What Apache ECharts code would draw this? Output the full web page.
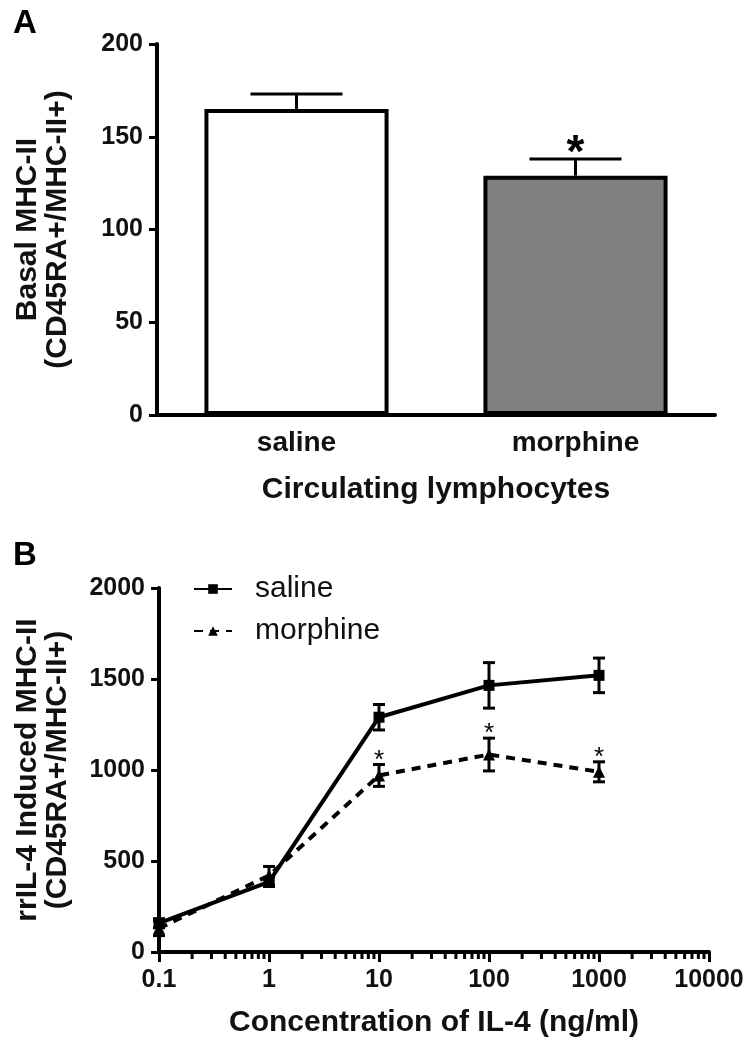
<!DOCTYPE html>
<html>
<head>
<meta charset="utf-8">
<script src="https://cdn.jsdelivr.net/npm/echarts@6/dist/echarts.min.js"></script>
<style>
  html, body { margin: 0; padding: 0; background: #fff; }
  #chart { width: 750px; height: 1050px; }
</style>
</head>
<body>
<div id="chart"></div>
<script>
// panel A
const groupsA = ['saline', 'morphine'];
const meanA = [165, 129];
const errA = [8, 9];
const sigA = [false, true];
const fillA = ['#ffffff', '#808080'];

// panel B
const doseB = [0.1, 1, 10, 100, 1000];
const salineB = [158, 385, 1290, 1465, 1520];
const salineErrB = [25, 25, 70, 125, 95];
const morphineB = [130, 420, 970, 1085, 990];
const morphineErrB = [40, 50, 60, 90, 55];
const sigB = [false, false, true, true, true];
// minor ticks of the log axis
const minorTicksB = [
  0.2, 0.3, 0.4, 0.5, 0.6, 0.7, 0.8, 0.9,
  2, 3, 4, 5, 6, 7, 8, 9,
  20, 30, 40, 50, 60, 70, 80, 90,
  200, 300, 400, 500, 600, 700, 800, 900,
  2000, 3000, 4000, 5000, 6000, 7000, 8000, 9000
];

const FONT = '"Liberation Sans", Arial, sans-serif';
const chart = echarts.init(document.getElementById('chart'));

const plain = v => String(+Number(v).toPrecision(6));

const barData = meanA.map((v, i) => ({
  value: v,
  itemStyle: { color: fillA[i], borderColor: '#000', borderWidth: 4 }
}));

// error bar (upper only) + star for the bars
const renderBarErr = (params, api) => {
  const i = api.value(0);
  const top = api.coord([i, api.value(1) + api.value(2)]);
  const base = api.coord([i, api.value(1)]);
  const children = [
    { type: 'line', shape: { x1: base[0], y1: base[1], x2: top[0], y2: top[1] }, style: { stroke: '#000', lineWidth: 3 } },
    { type: 'line', shape: { x1: top[0] - 46, y1: top[1], x2: top[0] + 46, y2: top[1] }, style: { stroke: '#000', lineWidth: 3 } }
  ];
  if (sigA[i]) {
    children.push({
      type: 'text',
      style: { text: '*', x: top[0], y: top[1] - 28, align: 'center', verticalAlign: 'top', font: 'bold 46px ' + FONT, fill: '#000' }
    });
  }
  return { type: 'group', children };
};

const makeErrRender = (means, errs, stars) => (params, api) => {
  const i = params.dataIndex;
  const x = doseB[i];
  const hi = api.coord([x, means[i] + errs[i]]);
  const lo = api.coord([x, means[i] - errs[i]]);
  const children = [
    { type: 'line', shape: { x1: hi[0], y1: hi[1], x2: lo[0], y2: lo[1] }, style: { stroke: '#000', lineWidth: 3 } },
    { type: 'line', shape: { x1: hi[0] - 6, y1: hi[1], x2: hi[0] + 6, y2: hi[1] }, style: { stroke: '#000', lineWidth: 3 } },
    { type: 'line', shape: { x1: lo[0] - 6, y1: lo[1], x2: lo[0] + 6, y2: lo[1] }, style: { stroke: '#000', lineWidth: 3 } }
  ];
  if (stars && stars[i]) {
    children.push({
      type: 'text',
      style: { text: '*', x: hi[0], y: hi[1] - 17, align: 'center', verticalAlign: 'top', font: '26px ' + FONT, fill: '#000' }
    });
  }
  return { type: 'group', children };
};

const axisLineStyle = { color: '#000', width: 4 };

const option = {
  animation: false,
  textStyle: { fontFamily: FONT },
  graphic: [
    { type: 'text', left: 13, top: 7, style: { text: 'A', font: 'bold 33px ' + FONT, fill: '#000' } },
    { type: 'text', left: 13, top: 539, style: { text: 'B', font: 'bold 33px ' + FONT, fill: '#000' } }
  ],
  legend: {
    data: ['saline', 'morphine'],
    orient: 'vertical',
    left: 188,
    top: 569,
    itemWidth: 38,
    itemHeight: 12,
    itemGap: 12,
    textStyle: { fontSize: 30, color: '#111', fontFamily: FONT, padding: [0, 0, 0, 18] }
  },
  grid: [
    { left: 157, top: 44, width: 558, height: 371 },
    { left: 159, top: 588, width: 550, height: 364 }
  ],
  xAxis: [
    {
      type: 'category',
      gridIndex: 0,
      data: groupsA,
      axisLine: { lineStyle: axisLineStyle },
      axisTick: { alignWithLabel: true, length: 11, lineStyle: { color: '#000', width: 3 } },
      axisLabel: { fontSize: 28, fontWeight: 'bold', color: '#111', margin: 14 },
      name: 'Circulating lymphocytes',
      nameLocation: 'middle',
      nameGap: 60,
      nameTextStyle: { fontSize: 30, fontWeight: 'bold', color: '#111' }
    },
    {
      type: 'log',
      gridIndex: 1,
      logBase: 10,
      min: 0.1,
      max: 10000,
      axisLine: { onZero: false, lineStyle: axisLineStyle },
      axisTick: { length: 10, lineStyle: { color: '#000', width: 3 } },
      axisLabel: { fontSize: 25, fontWeight: 'bold', color: '#111', margin: 16, formatter: plain },
      splitLine: { show: false },
      name: 'Concentration of IL-4 (ng/ml)',
      nameLocation: 'middle',
      nameGap: 56,
      nameTextStyle: { fontSize: 30, fontWeight: 'bold', color: '#111' }
    }
  ],
  yAxis: [
    {
      type: 'value',
      gridIndex: 0,
      min: 0,
      max: 200,
      interval: 50,
      axisLine: { show: true, lineStyle: axisLineStyle },
      axisTick: { show: true, length: 8, lineStyle: { color: '#000', width: 3 } },
      axisLabel: { fontSize: 25, fontWeight: 'bold', color: '#111', margin: 14, formatter: plain },
      splitLine: { show: false },
      name: 'Basal MHC-II\n(CD45RA+/MHC-II+)',
      nameLocation: 'middle',
      nameRotate: 90,
      nameGap: 84,
      nameTextStyle: { fontSize: 30, fontWeight: 'bold', color: '#111', lineHeight: 30 }
    },
    {
      type: 'value',
      gridIndex: 1,
      min: 0,
      max: 2000,
      interval: 500,
      axisLine: { show: true, onZero: false, lineStyle: axisLineStyle },
      axisTick: { show: true, length: 8, lineStyle: { color: '#000', width: 3 } },
      axisLabel: { fontSize: 25, fontWeight: 'bold', color: '#111', margin: 14, formatter: plain },
      splitLine: { show: false },
      name: 'rrIL-4 Induced MHC-II\n(CD45RA+/MHC-II+)',
      nameLocation: 'middle',
      nameRotate: 90,
      nameGap: 86,
      nameTextStyle: { fontSize: 30, fontWeight: 'bold', color: '#111', lineHeight: 30 }
    }
  ],
  series: [
    {
      type: 'bar',
      xAxisIndex: 0,
      yAxisIndex: 0,
      data: barData,
      barWidth: '66%'
    },
    {
      type: 'custom',
      xAxisIndex: 0,
      yAxisIndex: 0,
      renderItem: renderBarErr,
      data: meanA.map((v, i) => [i, v, errA[i]]),
      z: 1
    },
    {
      name: 'saline',
      type: 'line',
      xAxisIndex: 1,
      yAxisIndex: 1,
      data: doseB.map((d, i) => [d, salineB[i]]),
      symbol: 'rect',
      symbolSize: 11,
      lineStyle: { color: '#000', width: 4 },
      itemStyle: { color: '#000' },
      z: 3
    },
    {
      name: 'morphine',
      type: 'line',
      xAxisIndex: 1,
      yAxisIndex: 1,
      data: doseB.map((d, i) => [d, morphineB[i]]),
      symbol: 'triangle',
      symbolSize: 12,
      lineStyle: { color: '#000', width: 4, type: [9, 7] },
      itemStyle: { color: '#000' },
      z: 3
    },
    {
      type: 'custom',
      xAxisIndex: 1,
      yAxisIndex: 1,
      renderItem: makeErrRender(salineB, salineErrB, null),
      data: doseB.map((d, i) => [d, salineB[i]]),
      z: 4
    },
    {
      type: 'custom',
      xAxisIndex: 1,
      yAxisIndex: 1,
      renderItem: makeErrRender(morphineB, morphineErrB, sigB),
      data: doseB.map((d, i) => [d, morphineB[i]]),
      z: 4
    },
    {
      type: 'custom',
      xAxisIndex: 1,
      yAxisIndex: 1,
      clip: false,
      silent: true,
      renderItem: (params, api) => {
        const p = api.coord([api.value(0), 0]);
        return { type: 'line', shape: { x1: p[0], y1: p[1], x2: p[0], y2: p[1] + 7 }, style: { stroke: '#000', lineWidth: 3 } };
      },
      data: minorTicksB.map(v => [v, 0])
    }
  ]
};

chart.setOption(option);
</script>
</body>
</html>
